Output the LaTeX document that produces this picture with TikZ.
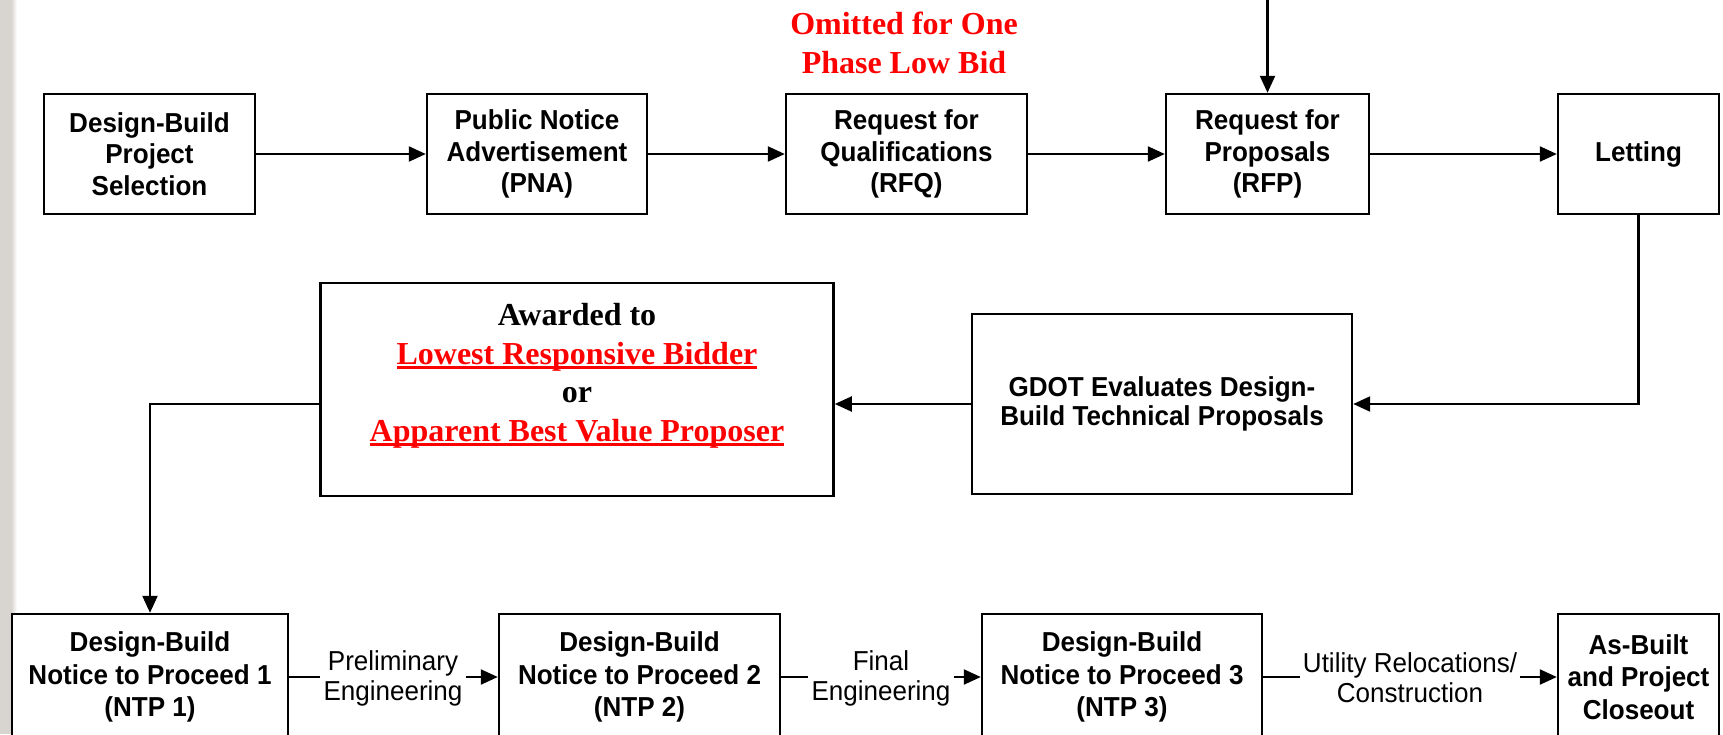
\documentclass[tikz,border=0pt]{standalone}
\usepackage{fontspec}
\setmainfont{Liberation Serif}
\newfontfamily\arialfont[FakeStretch=0.95]{Liberation Sans}
\usetikzlibrary{arrows.meta}

% thick underline that runs through the descenders
\newsavebox\ulinebox
\newcommand\redline[1]{\sbox\ulinebox{#1}\usebox\ulinebox\llap{\rule[-5pt]{\wd\ulinebox}{3pt}}}

\definecolor{stripgray}{RGB}{216,212,207}

\tikzset{
  stage/.style={draw, line width=2.4pt, fill=white, align=center, inner sep=0pt,
    font=\arialfont\bfseries\fontsize{27.4}{32.5}\selectfont},
  topstage/.style={stage, font=\arialfont\bfseries\fontsize{27.4}{31.5}\selectfont,
    minimum height=120pt},
  flowlabel/.style={align=center, inner sep=3pt,
    font=\arialfont\fontsize{27.4}{30}\selectfont},
  flow/.style={line width=2.2pt, -{Triangle[length=17pt,width=15pt]}},
  link/.style={line width=2.2pt},
}

\begin{document}
\begin{tikzpicture}[x=1pt,y=-1pt]
\clip (0,0) rectangle (1723,734);
\fill[white] (0,0) rectangle (1723,734);
\fill[stripgray] (0,0) rectangle (11,734);
\shade[left color=stripgray, right color=white] (11,0) rectangle (17,734);

% top row
\node[topstage, minimum width=211pt] (sel) at (149.5,154) {Design-Build\\Project\\Selection};
\node[topstage, minimum width=220pt] (pna) at (537,154) {Public Notice\\Advertisement\\(PNA)};
\node[topstage, minimum width=241pt] (rfq) at (906.5,154) {Request for\\Qualifications\\(RFQ)};
\node[topstage, minimum width=203pt] (rfp) at (1267.5,154) {Request for\\Proposals\\(RFP)};
\node[topstage, minimum width=161pt] (let) at (1638.5,154) {Letting};

\node[font=\bfseries\fontsize{32}{39}\selectfont, text=red, align=center, inner sep=0pt] (omit) at (904,43) {Omitted for One\\Phase Low Bid};

% middle row
\node[stage, font=\arialfont\bfseries\fontsize{27.4}{29.5}\selectfont, minimum width=380pt, minimum height=180pt] (gdot) at (1162,404) {GDOT Evaluates Design-\\Build Technical Proposals};
\node[draw, line width=2.6pt, fill=white, minimum width=513pt, minimum height=213pt, inner sep=0pt] (award) at (577,389.5) {};
\node[font=\bfseries\fontsize{32}{38.5}\selectfont, align=center, inner sep=0pt] (awardtxt) at (577,376)
  {Awarded to\\{\color{red}\redline{Lowest Responsive Bidder}}\\or\\{\color{red}\redline{Apparent Best Value Proposer}}};

% bottom row
\node[stage, minimum width=276pt, minimum height=126pt] (ntp1) at (150,677) {Design-Build\\Notice to Proceed 1\\(NTP 1)};
\node[stage, minimum width=281pt, minimum height=126pt] (ntp2) at (639.5,677) {Design-Build\\Notice to Proceed 2\\(NTP 2)};
\node[stage, minimum width=280pt, minimum height=126pt] (ntp3) at (1122,677) {Design-Build\\Notice to Proceed 3\\(NTP 3)};
\node[stage, minimum width=161pt, minimum height=126pt] (close) at (1638.5,677) {As-Built\\and Project\\Closeout};

\node[flowlabel] (lbl1) at (393,678) {Preliminary\\Engineering};
\node[flowlabel] (lbl2) at (881,678) {Final\\Engineering};
\node[flowlabel] (lbl3) at (1410,678) {Utility Relocations/\\Construction};

% connectors
\coordinate (feed) at (1267.5,-10);
\draw[flow] (feed) -- (rfp.north);
\draw[flow] (sel) -- (pna);
\draw[flow] (pna) -- (rfq);
\draw[flow] (rfq) -- (rfp);
\draw[flow] (rfp) -- (let);
\draw[flow] (let.south) |- (gdot.east);
\draw[flow] (gdot.west) -- (gdot.west -| award.east);
\draw[flow] (gdot.west -| award.west) -| (ntp1.north);

\draw[link] (ntp1.east) -- (ntp1.east -| lbl1.west);
\draw[flow] (ntp1.east -| lbl1.east) -- (ntp2.west);
\draw[link] (ntp2.east) -- (ntp2.east -| lbl2.west);
\draw[flow] (ntp2.east -| lbl2.east) -- (ntp3.west);
\draw[link] (ntp3.east) -- (ntp3.east -| lbl3.west);
\draw[flow] (ntp3.east -| lbl3.east) -- (close.west);
\end{tikzpicture}
\end{document}
